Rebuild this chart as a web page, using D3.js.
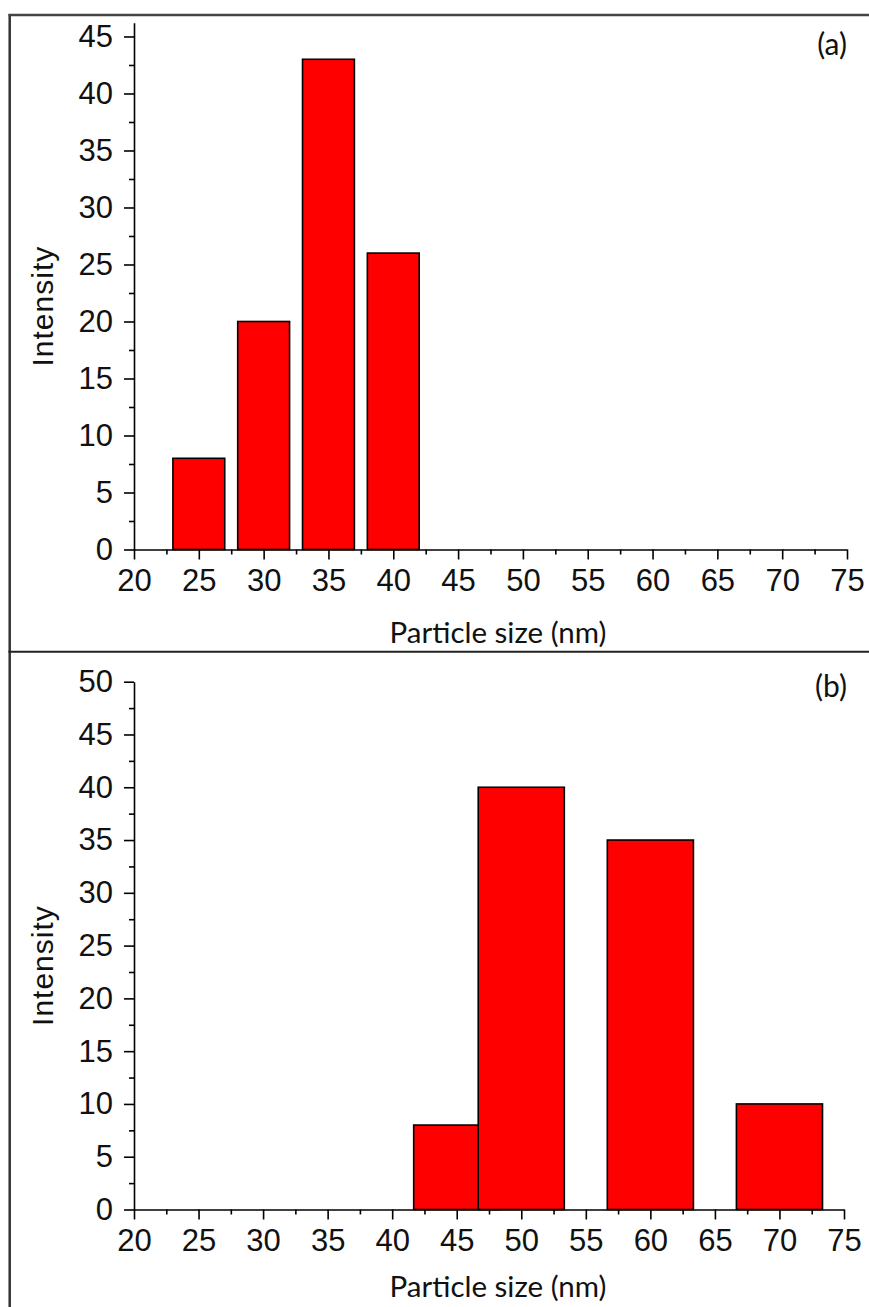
<!DOCTYPE html>
<html>
<head>
	<meta http-equiv="Content-Type" content="text/html;charset=UTF-8">
	<title>Particle size histograms</title>
	<style>
		body { margin: 0; background: #fff; }
		svg { display: block; }
	</style>
</head>
<body>

<!--		The two histograms-->
	<div class="histo"></div>

	<script src="https://d3js.org/d3.v7.min.js"></script>
	<script>

		/* panel (a) */
		var sizesA = [25, 30, 35, 40];
		var countsA = [8, 20, 43, 26];
		var binWidthA = 4;

		/* panel (b) - the 45 bin is drawn first, the 50 bin covers its right part */
		var sizesB = [45, 50, 60, 70];
		var countsB = [8, 40, 35, 10];
		var binWidthB = 6.67;

		var xTicks = [20, 25, 30, 35, 40, 45, 50, 55, 60, 65, 70, 75];
		var xMinor = [22.5, 27.5, 32.5, 37.5, 42.5, 47.5, 52.5, 57.5, 62.5, 67.5, 72.5];
		var yTicksA = [0, 5, 10, 15, 20, 25, 30, 35, 40, 45];
		var yMinorA = [2.5, 7.5, 12.5, 17.5, 22.5, 27.5, 32.5, 37.5, 42.5];
		var yTicksB = [0, 5, 10, 15, 20, 25, 30, 35, 40, 45, 50];
		var yMinorB = [2.5, 7.5, 12.5, 17.5, 22.5, 27.5, 32.5, 37.5, 42.5, 47.5];

		var w = 869;
		var h = 1307;
		var numFont = "'Liberation Sans', Arial, sans-serif";
		var titleFont = "Lato, 'Open Sans', sans-serif";

		var SVG = d3.select("div.histo").append("svg")
					.attr("width", w)
					.attr("height", h);

		/* outer frame and divider */
		SVG.append("line").attr("x1", 9.7).attr("x2", 9.7).attr("y1", 14).attr("y2", h)
			.attr("stroke", "#333").attr("stroke-width", 2.5);
		SVG.append("line").attr("x1", 8.5).attr("x2", w).attr("y1", 15).attr("y2", 15)
			.attr("stroke", "#444").attr("stroke-width", 2.5);
		SVG.append("line").attr("x1", 8.5).attr("x2", w).attr("y1", 651.7).attr("y2", 651.7)
			.attr("stroke", "#222").attr("stroke-width", 2);

		function drawPanel(cfg) {
			var xSCALE = d3.scaleLinear().domain([20, 75]).range([134, cfg.xEnd]);
			var ySCALE = d3.scaleLinear().domain([0, cfg.yMax]).range([cfg.y0, cfg.yTop]);

			var g = SVG.append("g");

			/*Bars*/
			g.selectAll("rect")
				.data(cfg.sizes)
				.enter()
				.append("rect")
				.attr("x", function(d){ return xSCALE(d - cfg.bw/2); })
				.attr("width", function(d){ return xSCALE(d + cfg.bw/2) - xSCALE(d - cfg.bw/2); })
				.attr("y", function(d, i){ return ySCALE(cfg.counts[i]); })
				.attr("height", function(d, i){ return ySCALE(0) - ySCALE(cfg.counts[i]); })
				.attr("fill", "#ff0000")
				.attr("stroke", "#000")
				.attr("stroke-width", 1.6);

			/*minor ticks*/
			g.append("g")
				.attr("transform", "translate(0," + cfg.y0 + ")")
				.call(d3.axisBottom(xSCALE).tickValues(xMinor).tickSize(5).tickSizeOuter(0).tickFormat(""))
				.call(function(a){ a.select(".domain").remove(); });
			g.append("g")
				.attr("transform", "translate(134,0)")
				.call(d3.axisLeft(ySCALE).tickValues(cfg.yMinor).tickSize(5).tickSizeOuter(0).tickFormat(""))
				.call(function(a){ a.select(".domain").remove(); });

			/*Axis in eje X*/
			var xa = g.append("g")
				.attr("transform", "translate(0," + cfg.y0 + ")")
				.call(d3.axisBottom(xSCALE).tickValues(xTicks).tickSize(10).tickSizeOuter(0).tickPadding(9.5));

			/*Axis in eje Y*/
			var ya = g.append("g")
				.attr("transform", "translate(134,0)")
				.call(d3.axisLeft(ySCALE).tickValues(cfg.yTicks).tickSize(10).tickSizeOuter(0).tickPadding(11));

			g.selectAll(".tick line, .domain")
				.attr("stroke", "#000")
				.attr("stroke-width", 1.6);
			[xa, ya].forEach(function(a){
				a.attr("font-family", numFont).attr("font-size", 31);
				a.selectAll("text").attr("fill", "#111");
			});
			ya.selectAll("text").attr("dy", "0.32em");

			/*axis titles*/
			g.append("text")
				.text("Intensity")
				.attr("transform", "translate(53," + ((cfg.y0 + cfg.yTop)/2 + 20) + ") rotate(-90)")
				.attr("text-anchor", "middle")
				.attr("font-family", numFont)
				.attr("font-size", 30)
				.attr("letter-spacing", 1)
				.attr("fill", "#111");

			g.append("text")
				.text("Particle size (nm)")
				.attr("x", 498)
				.attr("y", cfg.titleY)
				.attr("text-anchor", "middle")
				.attr("font-family", titleFont)
				.attr("font-size", 29.5)
				.attr("fill", "#111");

			g.append("text")
				.text(cfg.tag)
				.attr("x", 847)
				.attr("y", cfg.tagY)
				.attr("text-anchor", "end")
				.attr("font-family", titleFont)
				.attr("font-size", 30)
				.attr("fill", "#111");
		}

		drawPanel({ sizes: sizesA, counts: countsA, bw: binWidthA, yMax: 46.2,
					y0: 549.5, yTop: 22.8, xEnd: 847, yTicks: yTicksA, yMinor: yMinorA,
					titleY: 643, tag: "(a)", tagY: 55 });

		drawPanel({ sizes: sizesB, counts: countsB, bw: binWidthB, yMax: 50,
					y0: 1209.5, yTop: 681.7, xEnd: 844, yTicks: yTicksB, yMinor: yMinorB,
					titleY: 1297, tag: "(b)", tagY: 697 });

	</script>

</body>
</html>
